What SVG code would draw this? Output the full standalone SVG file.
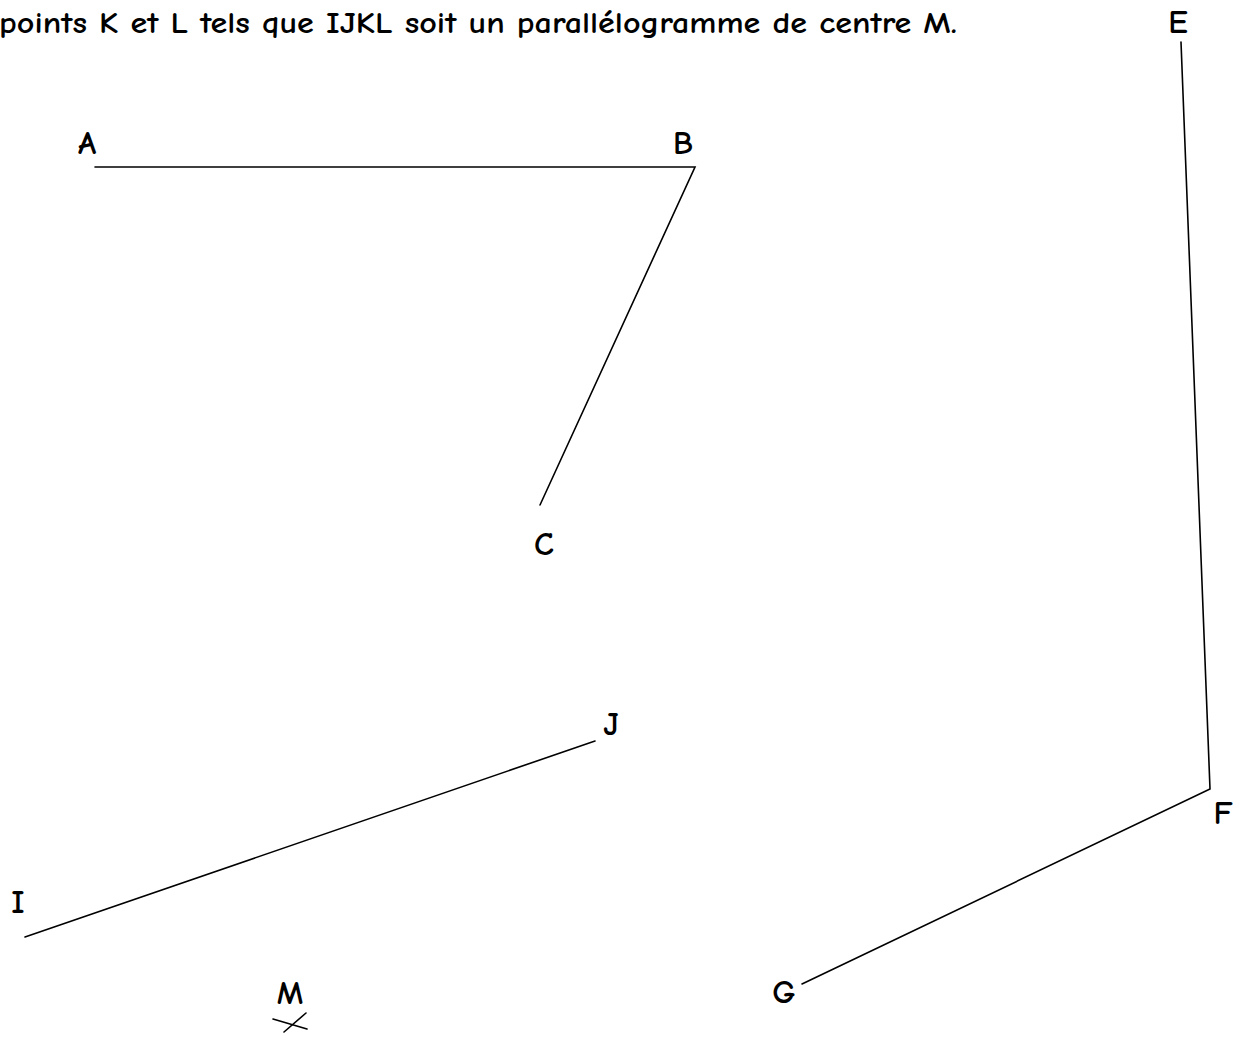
<svg xmlns="http://www.w3.org/2000/svg" width="1237" height="1038" viewBox="0 0 1237 1038">
<style>
text { font-family: "Comic Sans MS", "Comic Neue", "DejaVu Sans", sans-serif; fill: #000; font-weight: bold; }
.lbl { font-size: 33px; text-anchor: middle; }
.title { font-size: 31px; }
.seg { stroke: #000; stroke-width: 1.6; fill: none; stroke-linecap: round; stroke-linejoin: miter; }
</style>
<rect width="1237" height="1038" fill="#fff"/>
<text class="title" x="-1" y="33" textLength="958" lengthAdjust="spacingAndGlyphs">points K et L tels que IJKL soit un parallélogramme de centre M.</text>
<g id="connectors">
<polyline class="seg" points="95,167 695,167 540,505"/>
<polyline class="seg" points="1181,42 1210,789 802,984"/>
<line class="seg" x1="25" y1="937" x2="595" y2="741"/>
<line class="seg" x1="273" y1="1019" x2="307" y2="1029"/>
<line class="seg" x1="284" y1="1032" x2="306" y2="1013"/>
</g>
<g id="node-A"><text class="lbl" x="87" y="154">A</text></g>
<g id="node-B"><text class="lbl" x="683" y="154">B</text></g>
<g id="node-C"><text class="lbl" x="544" y="555">C</text></g>
<g id="node-E"><text class="lbl" x="1178" y="33">E</text></g>
<g id="node-F"><text class="lbl" x="1223" y="824">F</text></g>
<g id="node-G"><text class="lbl" x="784" y="1003">G</text></g>
<g id="node-I"><text class="lbl" x="18" y="913">I</text></g>
<g id="node-J"><text class="lbl" x="611" y="735">J</text></g>
<g id="node-M"><text class="lbl" x="290" y="1004">M</text></g>
</svg>
